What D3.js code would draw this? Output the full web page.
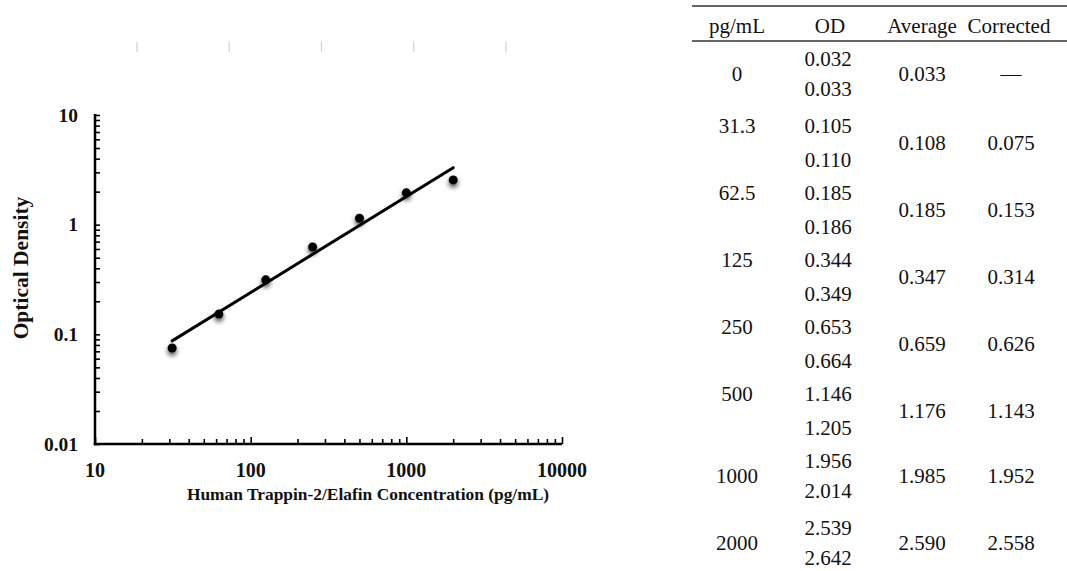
<!DOCTYPE html>
<html>
<head>
<meta charset="utf-8">
<script src="https://cdn.jsdelivr.net/npm/d3@7"></script>
<style>
    html, body { margin: 0; padding: 0; background: #fff; }
    svg { display: block; }
</style>
</head>
<body>
<div id="chart"></div>
<script>
// Standard curve - Elafin ELISA

// 1. Data
const concentrations = [0, 31.3, 62.5, 125, 250, 500, 1000, 2000];
const odRep1 = [0.032, 0.105, 0.185, 0.344, 0.653, 1.146, 1.956, 2.539];
const odRep2 = [0.033, 0.110, 0.186, 0.349, 0.664, 1.205, 2.014, 2.642];
const averages = [0.033, 0.108, 0.185, 0.347, 0.659, 1.176, 1.985, 2.590];
const corrected = [null, 0.075, 0.153, 0.314, 0.626, 1.143, 1.952, 2.558];

const tableHeaders = ['pg/mL', 'OD', 'Average', 'Corrected'];
const xTickLabels = ['10', '100', '1000', '10000'];
const yTickLabels = ['0.01', '0.1', '1', '10'];

const width = 1067;
const height = 571;

const svg = d3.select('#chart').append('svg')
    .attr('width', width)
    .attr('height', height);

// soft shadow under the dots
const defs = svg.append('defs');
const f = defs.append('filter').attr('id', 'dotShadow')
    .attr('x', '-100%').attr('y', '-100%').attr('width', '300%').attr('height', '300%');
f.append('feGaussianBlur').attr('in', 'SourceAlpha').attr('stdDeviation', 2.8).attr('result', 'blur');
f.append('feOffset').attr('in', 'blur').attr('dx', 0).attr('dy', 3).attr('result', 'off');
f.append('feComponentTransfer').attr('in', 'off').attr('result', 'shadow')
    .append('feFuncA').attr('type', 'linear').attr('slope', 0.75);
const merge = f.append('feMerge');
merge.append('feMergeNode').attr('in', 'shadow');
merge.append('feMergeNode').attr('in', 'SourceGraphic');

// 2. Scales
const x = d3.scaleLog().domain([10, 10000]).range([95, 562]);
const y = d3.scaleLog().domain([0.01, 10]).range([444, 115]);

const serif = '"Liberation Serif", "Times New Roman", serif';

// faint marks along the top (scan artefacts in the original)
const topMarks = d3.scaleLinear().domain([0, 4]).range([137, 506]);
svg.append('g').selectAll('line')
    .data(d3.range(5))
    .enter().append('line')
    .attr('x1', d => topMarks(d)).attr('x2', d => topMarks(d))
    .attr('y1', 42).attr('y2', 52)
    .attr('stroke', '#cfcfcf')
    .attr('stroke-width', 1.2);

// 3. Axes
const xAxis = d3.axisTop(x)
    .tickValues(d3.range(1, 4).flatMap(p => d3.range(1, 10).map(m => m * Math.pow(10, p))).concat([10000]))
    .tickSize(5)
    .tickFormat('');
const gx = svg.append('g')
    .attr('transform', `translate(0,${y(0.01)})`)
    .call(xAxis);
gx.selectAll('.tick line')
    .attr('stroke', '#000')
    .attr('stroke-width', 1.6)
    .attr('y2', d => Math.abs(Math.log10(d) % 1) < 1e-9 ? -7 : -5);
gx.select('.domain').remove();

const yAxis = d3.axisRight(y)
    .tickValues(d3.range(-2, 1).flatMap(p => d3.range(1, 10).map(m => m * Math.pow(10, p))).concat([10]))
    .tickSize(5)
    .tickFormat('');
const gy = svg.append('g')
    .attr('transform', `translate(${x(10)},0)`)
    .call(yAxis);
gy.selectAll('.tick line').attr('stroke', '#000').attr('stroke-width', 1.6);
gy.select('.domain').remove();

// axis lines
svg.append('line')
    .attr('x1', x(10)).attr('x2', x(10))
    .attr('y1', y(10) - 1).attr('y2', y(0.01) + 1.25)
    .attr('stroke', '#000').attr('stroke-width', 2.5);
svg.append('line')
    .attr('x1', x(10) - 1.25).attr('x2', x(10000))
    .attr('y1', y(0.01)).attr('y2', y(0.01))
    .attr('stroke', '#000').attr('stroke-width', 2.5);

// tick labels
svg.append('g').selectAll('text')
    .data(xTickLabels)
    .enter().append('text')
    .attr('x', d => x(+d))
    .attr('y', 477)
    .attr('text-anchor', 'middle')
    .attr('font-family', serif)
    .attr('font-weight', 'bold')
    .attr('font-size', 20)
    .attr('fill', '#111')
    .text(d => d);

svg.append('g').selectAll('text')
    .data(yTickLabels)
    .enter().append('text')
    .attr('x', 78)
    .attr('y', d => y(+d) + 6.8)
    .attr('text-anchor', 'end')
    .attr('font-family', serif)
    .attr('font-weight', 'bold')
    .attr('font-size', 19.5)
    .attr('fill', '#111')
    .text(d => d);

// axis titles
svg.append('text')
    .attr('x', 368)
    .attr('y', 500)
    .attr('text-anchor', 'middle')
    .attr('font-family', serif)
    .attr('font-weight', 'bold')
    .attr('font-size', 17.4)
    .attr('fill', '#111')
    .text('Human Trappin-2/Elafin Concentration (pg/mL)');

svg.append('text')
    .attr('transform', 'translate(28,268) rotate(-90)')
    .attr('text-anchor', 'middle')
    .attr('font-family', serif)
    .attr('font-weight', 'bold')
    .attr('font-size', 21.5)
    .attr('fill', '#111')
    .text('Optical Density');

// 4. Trend line (power fit on log-log, least squares)
const pts = concentrations.map((c, i) => ({ c, od: corrected[i] })).filter(d => d.od !== null);
const lx = pts.map(d => Math.log10(d.c));
const ly = pts.map(d => Math.log10(d.od));
const mx = d3.mean(lx), my = d3.mean(ly);
const slope = d3.sum(lx.map((v, i) => (v - mx) * (ly[i] - my))) / d3.sum(lx.map(v => (v - mx) ** 2));
const icpt = my - slope * mx;
const fit = c => Math.pow(10, icpt + slope * Math.log10(c));
const xMin = d3.min(pts, d => d.c), xMax = d3.max(pts, d => d.c);

svg.append('line')
    .attr('x1', x(xMin)).attr('y1', y(fit(xMin)))
    .attr('x2', x(xMax)).attr('y2', y(fit(xMax)))
    .attr('stroke', '#000')
    .attr('stroke-width', 3)
    .attr('stroke-linecap', 'round');

// points
svg.append('g').selectAll('circle')
    .data(pts)
    .enter().append('circle')
    .attr('cx', d => x(d.c))
    .attr('cy', d => y(d.od))
    .attr('r', 4.5)
    .attr('fill', '#000')
    .attr('filter', 'url(#dotShadow)');

// 5. Table
const colX = [737, 828, 922, 1011];
const headX = [737, 830, 922, 1009];

svg.append('line').attr('x1', 692).attr('x2', width).attr('y1', 6).attr('y2', 6)
    .attr('stroke', '#333').attr('stroke-width', 1.5);
svg.append('line').attr('x1', 692).attr('x2', width).attr('y1', 41).attr('y2', 41)
    .attr('stroke', '#333').attr('stroke-width', 1.5);

const cellText = (sel) => sel
    .attr('font-family', serif)
    .attr('font-size', 21)
    .attr('fill', '#111')
    .attr('text-anchor', 'middle')
    .attr('dominant-baseline', 'central');

svg.append('g').selectAll('text')
    .data(tableHeaders)
    .enter().append('text')
    .attr('x', (d, i) => headX[i])
    .attr('y', 26)
    .call(cellText)
    .text(d => d);

// row position of the first replicate
const row = d3.scalePoint().domain(d3.range(concentrations.length)).range([58.5, 527.5]);
const tight = i => i === 0 || i >= 6;
const gap = i => tight(i) ? 30 : 34;

const rows = svg.append('g').selectAll('g')
    .data(concentrations)
    .enter().append('g');

rows.append('text')
    .attr('x', colX[0])
    .attr('y', (d, i) => tight(i) ? row(i) + gap(i) / 2 : row(i))
    .call(cellText)
    .text(d => d);

rows.append('text')
    .attr('x', colX[1])
    .attr('y', (d, i) => row(i))
    .call(cellText)
    .text((d, i) => odRep1[i].toFixed(3));

rows.append('text')
    .attr('x', colX[1])
    .attr('y', (d, i) => row(i) + gap(i))
    .call(cellText)
    .text((d, i) => odRep2[i].toFixed(3));

rows.append('text')
    .attr('x', colX[2])
    .attr('y', (d, i) => row(i) + gap(i) / 2)
    .call(cellText)
    .text((d, i) => averages[i].toFixed(3));

rows.append('text')
    .attr('x', colX[3])
    .attr('y', (d, i) => row(i) + gap(i) / 2)
    .call(cellText)
    .text((d, i) => corrected[i] === null ? '\u2014' : corrected[i].toFixed(3));
</script>
</body>
</html>
